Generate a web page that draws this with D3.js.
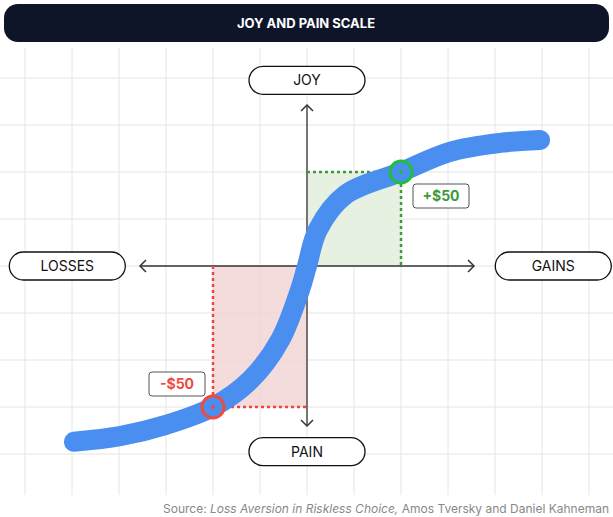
<!DOCTYPE html><html><head><script src="https://cdn.jsdelivr.net/npm/d3@7"></script>
<style>body{margin:0;background:#fff}text{font-family:Inter,"Noto Sans",sans-serif}</style></head><body>
<svg id="c" width="613" height="517"></svg>
<script>
const title="JOY AND PAIN SCALE";
const curveX=[-4.96,-3.98,-3,-2,-1.21,-0.57,-0.15,0,0.23,0.81,2,3.04,4.11,4.96];
const curveY=[-3.74,-3.62,-3.38,-3,-2.43,-1.57,-0.51,0,0.77,1.51,2,2.43,2.62,2.68];
const lossPt={x:-2,y:-3,label:"-$50"};
const gainPt={x:2,y:2,label:"+$50"};
const axisLabels=[{t:"JOY",x:0,y:3.95},{t:"PAIN",x:0,y:-3.95},{t:"LOSSES",x:-5.1,y:0},{t:"GAINS",x:5.24,y:0}];
const gridX=d3.range(-6,7), gridY=d3.range(-4,5);

const svg=d3.select("#c");
const x=d3.scaleLinear().domain([0,1]).range([307,354]);
const y=d3.scaleLinear().domain([0,1]).range([266,219]);
// grid
svg.append("g").selectAll("line").data(gridX).join("line").attr("x1",d=>x(d)).attr("x2",d=>x(d)).attr("y1",48).attr("y2",495).attr("stroke","#e4e4e4");
svg.append("g").selectAll("line").data(gridY).join("line").attr("y1",d=>y(d)).attr("y2",d=>y(d)).attr("x1",0).attr("x2",613).attr("stroke","#e4e4e4");
// title
svg.append("rect").attr("x",4).attr("y",4).attr("width",605).attr("height",38).attr("rx",14).attr("fill","#0f1529");
svg.append("text").attr("x",306).attr("y",28).attr("text-anchor","middle").attr("fill","#fff").attr("font-size",13).attr("font-weight",700).text(title);
// shaded
svg.append("rect").attr("x",x(lossPt.x)).attr("y",y(0)).attr("width",x(0)-x(lossPt.x)).attr("height",y(lossPt.y)-y(0)).attr("fill","#f3d3d3").attr("opacity",0.8);
svg.append("rect").attr("x",x(0)).attr("y",y(gainPt.y)).attr("width",x(gainPt.x)-x(0)).attr("height",y(0)-y(gainPt.y)).attr("fill","#e3f0df").attr("opacity",0.9);
// axes
const ax="#333";
svg.append("line").attr("x1",140).attr("x2",474).attr("y1",y(0)).attr("y2",y(0)).attr("stroke",ax).attr("stroke-width",1.3);
svg.append("line").attr("y1",105).attr("y2",426).attr("x1",x(0)).attr("x2",x(0)).attr("stroke",ax).attr("stroke-width",1.3);
const arr=(p)=>svg.append("path").attr("d",p).attr("fill","none").attr("stroke",ax).attr("stroke-width",1.5);
arr(`M146,260L140,266L146,272`);arr(`M468,260L474,266L468,272`);
arr(`M301,111L307,105L313,111`);arr(`M301,420L307,426L313,420`);
// dotted lines
const dot=(x1,y1,x2,y2,c)=>svg.append("line").attr("x1",x1).attr("y1",y1).attr("x2",x2).attr("y2",y2).attr("stroke",c).attr("stroke-width",2.5).attr("stroke-dasharray","3,3");
dot(x(lossPt.x),y(0),x(lossPt.x),y(lossPt.y),"#f0453a");dot(x(lossPt.x),y(lossPt.y),x(0),y(lossPt.y),"#f0453a");
dot(x(0),y(gainPt.y),x(gainPt.x),y(gainPt.y),"#3a9a3a");dot(x(gainPt.x),y(gainPt.y),x(gainPt.x),y(0),"#3a9a3a");
// curve
const pts=curveX.map((v,i)=>[x(v),y(curveY[i])]);
svg.append("path").attr("d",d3.line().curve(d3.curveCatmullRom)(pts)).attr("fill","none").attr("stroke","#4a8ff0").attr("stroke-width",20).attr("stroke-linecap","round");
// points
[[lossPt,"#ef4a3f"],[gainPt,"#1fbf3a"]].forEach(([p,c])=>{
 svg.append("circle").attr("cx",x(p.x)).attr("cy",y(p.y)).attr("r",11).attr("fill","none").attr("stroke",c).attr("stroke-width",3);
 svg.append("circle").attr("cx",x(p.x)).attr("cy",y(p.y)).attr("r",2).attr("fill",c);
});
// value labels
const vl=(cx,cy,t,c)=>{svg.append("rect").attr("x",cx-28).attr("y",cy-12).attr("width",56).attr("height",24).attr("rx",3).attr("fill","#fff").attr("stroke","#555");
 svg.append("text").attr("x",cx).attr("y",cy+5).attr("text-anchor","middle").attr("fill",c).attr("font-weight",700).attr("font-size",14).text(t);};
vl(441,196,gainPt.label,"#3a9a3a");vl(177,384,lossPt.label,"#ef4a3f");
// axis pills
axisLabels.forEach(d=>{svg.append("rect").attr("x",x(d.x)-58).attr("y",y(d.y)-14).attr("width",116).attr("height",28).attr("rx",14).attr("fill","#fff").attr("stroke","#111").attr("stroke-width",1.3);
 svg.append("text").attr("x",x(d.x)).attr("y",y(d.y)+5).attr("text-anchor","middle").attr("fill","#111").attr("font-size",14).text(d.t);});
// source
const s=svg.append("text").attr("x",609).attr("y",513).attr("text-anchor","end").attr("fill","#888").attr("font-size",12);
s.append("tspan").text("Source: ");s.append("tspan").attr("font-style","italic").text("Loss Aversion in Riskless Choice,");s.append("tspan").text("  Amos Tversky and Daniel Kahneman");
</script></body></html>
